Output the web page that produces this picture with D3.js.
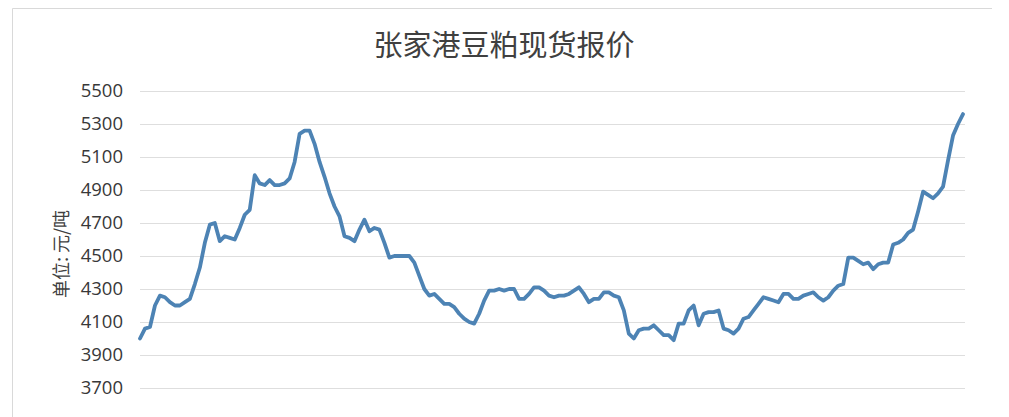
<!DOCTYPE html>
<html>
<head>
<meta charset="utf-8">
<script src="https://cdn.jsdelivr.net/npm/d3@7"></script>
<style>
  body { margin: 0; background: #fff; }
  svg { display: block; font-family: "Microsoft YaHei", "Noto Sans CJK SC", sans-serif; }
</style>
</head>
<body>
<svg class="chart-svg"></svg>
<script>
const title = "张家港豆粕现货报价";
const yLabel = "单位: 元/吨";
const yTicks = [3700, 3900, 4100, 4300, 4500, 4700, 4900, 5100, 5300, 5500];

// weekly spot price, 元/吨
const prices = [
  4000, 4060, 4070, 4200, 4260, 4250, 4220, 4200, 4200, 4220,
  4240, 4330, 4430, 4580, 4690, 4700, 4590, 4620, 4610, 4600,
  4670, 4750, 4780, 4990, 4940, 4930, 4960, 4930, 4930, 4940,
  4970, 5070, 5240, 5260, 5260, 5180, 5070, 4980, 4880, 4800,
  4740, 4620, 4610, 4590, 4660, 4720, 4650, 4670, 4660, 4580,
  4490, 4500, 4500, 4500, 4500, 4460, 4380, 4300, 4260, 4270,
  4240, 4210, 4210, 4190, 4150, 4120, 4100, 4090, 4150, 4230,
  4290, 4290, 4300, 4290, 4300, 4300, 4240, 4240, 4270, 4310,
  4310, 4290, 4260, 4250, 4260, 4260, 4270, 4290, 4310, 4270,
  4220, 4240, 4240, 4280, 4280, 4260, 4250, 4170, 4030, 4000,
  4050, 4060, 4060, 4080, 4050, 4020, 4020, 3990, 4090, 4090,
  4170, 4200, 4080, 4150, 4160, 4160, 4170, 4060, 4050, 4030,
  4060, 4120, 4130, 4170, 4210, 4250, 4240, 4230, 4220, 4270,
  4270, 4240, 4240, 4260, 4270, 4280, 4250, 4230, 4250, 4290,
  4320, 4330, 4490, 4490, 4470, 4450, 4460, 4420, 4450, 4460,
  4460, 4570, 4580, 4600, 4640, 4660, 4770, 4890, 4870, 4850,
  4880, 4920, 5080, 5230, 5300, 5360
];
const weeks = prices.map((d, i) => i);

const chart = {
    width: 1009,
    height: 417,
    left: 140,
    right: 965,
    top: 91,
    bottom: 388,
};

const svg = d3.select(".chart-svg")
    .attr("width", chart.width)
    .attr("height", chart.height);

// chart area frame: only top and left edges show in the crop
svg.append("path")
    .attr("d", "M12.5,417V8.5H992")
    .attr("fill", "none")
    .attr("stroke", "#d9d9d9");

const x = d3.scaleLinear().domain(d3.extent(weeks)).range([chart.left, chart.right - 2]);
const y = d3.scaleLinear().domain([3700, 5500]).range([chart.bottom, chart.top]);

// grid + tick labels
const yAxis = svg.append("g")
    .attr("transform", `translate(${chart.left}, 0)`)
    .call(d3.axisLeft(y)
        .tickValues(yTicks)
        .tickSize(-(chart.right - chart.left))
        .tickPadding(17)
        .tickFormat(d3.format("d")));

yAxis.select(".domain").remove();
yAxis.selectAll(".tick line").attr("stroke", "#dedede");
yAxis.selectAll(".tick text")
    .attr("fill", "#383838")
    .style("font-size", "18.5px")
    .style("font-family", "Open Sans, sans-serif");

// title
svg.append("text")
    .attr("x", 504)
    .attr("y", 56)
    .attr("text-anchor", "middle")
    .attr("fill", "#404040")
    .style("font-size", "29px")
    .text(title);

// y axis label
svg.append("text")
    .attr("transform", "translate(68, 254) rotate(-90)")
    .attr("text-anchor", "middle")
    .attr("fill", "#404040")
    .style("font-size", "18px")
    .text(yLabel);

const line = d3.line()
    .x((d, i) => x(weeks[i]))
    .y(d => y(d));

svg.append("path")
    .datum(prices)
    .attr("fill", "none")
    .attr("stroke", "#4d83b4")
    .attr("stroke-width", 3.8)
    .attr("stroke-linejoin", "round")
    .attr("stroke-linecap", "round")
    .attr("d", line);
</script>
</body>
</html>
